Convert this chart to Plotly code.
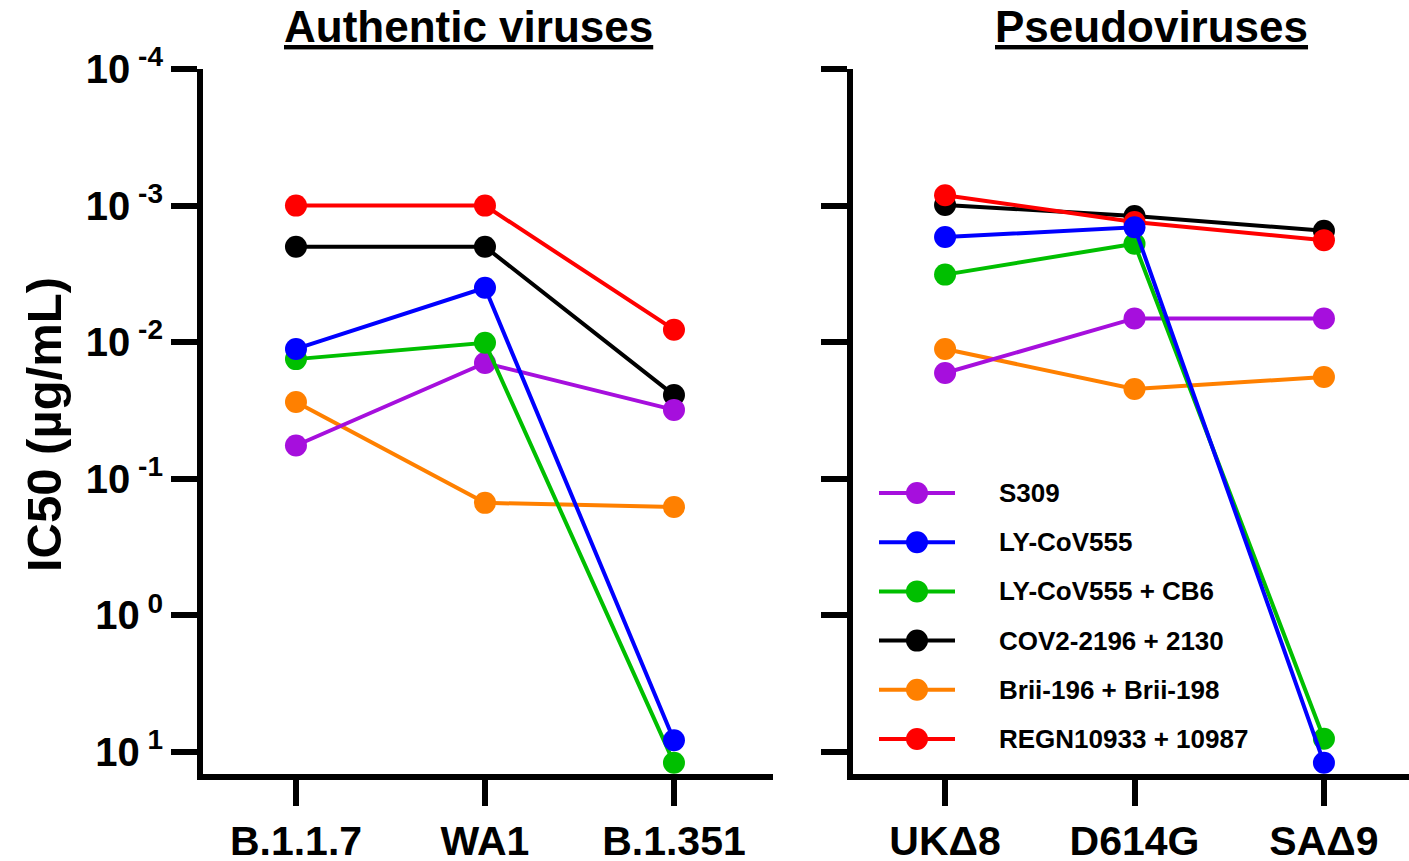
import plotly.graph_objects as go

W, H = 1409, 861

# Categories on the two panels
authentic_variants = ["B.1.1.7", "WA1", "B.1.351"]
pseudo_variants = ["UKΔ8", "D614G", "SAΔ9"]

# Antibodies / cocktails and their colours
antibodies = ["S309", "LY-CoV555", "LY-CoV555 + CB6", "COV2-2196 + 2130",
              "Brii-196 + Brii-198", "REGN10933 + 10987"]
colors = ["#A60FDD", "#0000FF", "#00BF00", "#000000", "#FF8000", "#FF0000"]

# IC50 (µg/mL) against authentic viruses
auth_s309 = [0.057, 0.0142, 0.0313]
auth_ly555 = [0.0112, 0.0040, 8.2]
auth_ly555_cb6 = [0.0133, 0.0101, 12.0]
auth_cov2 = [0.0020, 0.0020, 0.0244]
auth_brii = [0.0274, 0.150, 0.161]
auth_regn = [0.0010, 0.0010, 0.0081]

# IC50 (µg/mL) against pseudoviruses
pseudo_s309 = [0.0168, 0.0067, 0.0067]
pseudo_ly555 = [0.0017, 0.00144, 12.0]
pseudo_ly555_cb6 = [0.0032, 0.0019, 8.0]
pseudo_cov2 = [0.00099, 0.00119, 0.00153]
pseudo_brii = [0.0112, 0.0220, 0.0180]
pseudo_regn = [0.00084, 0.00132, 0.00179]

# Y tick labels
y_tickvals = [1e-4, 1e-3, 1e-2, 1e-1, 1, 10]
y_ticktext = ["10<sup> -4</sup>", "10<sup> -3</sup>", "10<sup> -2</sup>",
              "10<sup> -1</sup>", "10<sup> 0</sup>", "10<sup> 1</sup>"]

auth_series = [auth_s309, auth_ly555, auth_ly555_cb6, auth_cov2, auth_brii, auth_regn]
pseudo_series = [pseudo_s309, pseudo_ly555, pseudo_ly555_cb6, pseudo_cov2, pseudo_brii, pseudo_regn]

# stacking order of the lines (later = on top)
draw_order = [4, 3, 5, 0, 2, 1]

FONT = "Liberation Sans, Arial, Helvetica, sans-serif"


def px_x(x):
    return x / W


def px_y(y):
    return (H - y) / H


fig = go.Figure()

for i in draw_order:
    for xa, ya, cats, vals in (("x", "y", authentic_variants, auth_series[i]),
                               ("x2", "y2", pseudo_variants, pseudo_series[i])):
        fig.add_trace(go.Scatter(
            x=cats, y=vals, xaxis=xa, yaxis=ya, mode="lines+markers",
            name=antibodies[i], showlegend=False,
            line=dict(color=colors[i], width=4),
            marker=dict(color=colors[i], size=22, line=dict(width=0)),
        ))

# plot-area geometry (pixels)
left_x0, left_x1 = 203, 773
right_x0, right_x1 = 853, 1409
plot_top, plot_bottom = 69, 774

axis_common = dict(
    showline=True, linewidth=6, linecolor="black",
    ticks="outside", ticklen=26, tickwidth=6, tickcolor="black",
    showgrid=False, zeroline=False, automargin=False,
    tickfont=dict(family=FONT, size=41, color="black", weight="bold"),
)

y_common = dict(
    axis_common, type="log", range=[1.161, -4],
    tickvals=y_tickvals, ticktext=y_ticktext,
    domain=[px_y(plot_bottom), px_y(plot_top)],
)
y_common["tickfont"] = dict(family=FONT, size=40, color="black", weight="bold")

fig.update_layout(
    width=W, height=H,
    margin=dict(l=0, r=0, t=0, b=0),
    paper_bgcolor="white", plot_bgcolor="white",
    showlegend=False,
    xaxis=dict(axis_common, type="category", categoryarray=authentic_variants,
               range=[-0.492, 2.524], anchor="y",
               domain=[px_x(left_x0), px_x(left_x1)]),
    yaxis=dict(y_common, anchor="x"),
    xaxis2=dict(axis_common, type="category", categoryarray=pseudo_variants,
                range=[-0.486, 2.449], anchor="y2",
                domain=[px_x(right_x0), px_x(right_x1)]),
    yaxis2=dict(y_common, anchor="x2", showticklabels=False),
)

annotations = [
    dict(text="<u>Authentic viruses</u>", x=px_x(468), y=px_y(27),
         xref="paper", yref="paper", xanchor="center", yanchor="middle",
         showarrow=False, font=dict(family=FONT, size=44, color="black", weight="bold")),
    dict(text="<u>Pseudoviruses</u>", x=px_x(1151), y=px_y(27),
         xref="paper", yref="paper", xanchor="center", yanchor="middle",
         showarrow=False, font=dict(family=FONT, size=44, color="black", weight="bold")),
    dict(text="IC50 (µg/mL)", x=px_x(44), y=px_y(425), textangle=-90,
         xref="paper", yref="paper", xanchor="center", yanchor="middle",
         showarrow=False, font=dict(family=FONT, size=49, color="black", weight="bold")),
]

# legend inside the pseudovirus panel
shapes = []
leg_line_x0, leg_line_x1, leg_marker_x, leg_text_x = 879, 955, 917, 997
leg_top, leg_step = 493, 49.2
for k, (name, col) in enumerate(zip(antibodies, colors)):
    yy = leg_top + k * leg_step
    shapes.append(dict(type="line", xref="paper", yref="paper",
                       x0=px_x(leg_line_x0), x1=px_x(leg_line_x1),
                       y0=px_y(yy), y1=px_y(yy),
                       line=dict(color=col, width=4)))
    shapes.append(dict(type="circle", xref="paper", yref="paper",
                       x0=px_x(leg_marker_x - 11), x1=px_x(leg_marker_x + 11),
                       y0=px_y(yy + 11), y1=px_y(yy - 11),
                       fillcolor=col, line=dict(width=0)))
    annotations.append(dict(text=name, x=px_x(leg_text_x), y=px_y(yy),
                            xref="paper", yref="paper", xanchor="left", yanchor="middle",
                            showarrow=False,
                            font=dict(family=FONT, size=26, color="black", weight="bold")))

fig.update_layout(annotations=annotations, shapes=shapes)

fig.write_html("out.html")
